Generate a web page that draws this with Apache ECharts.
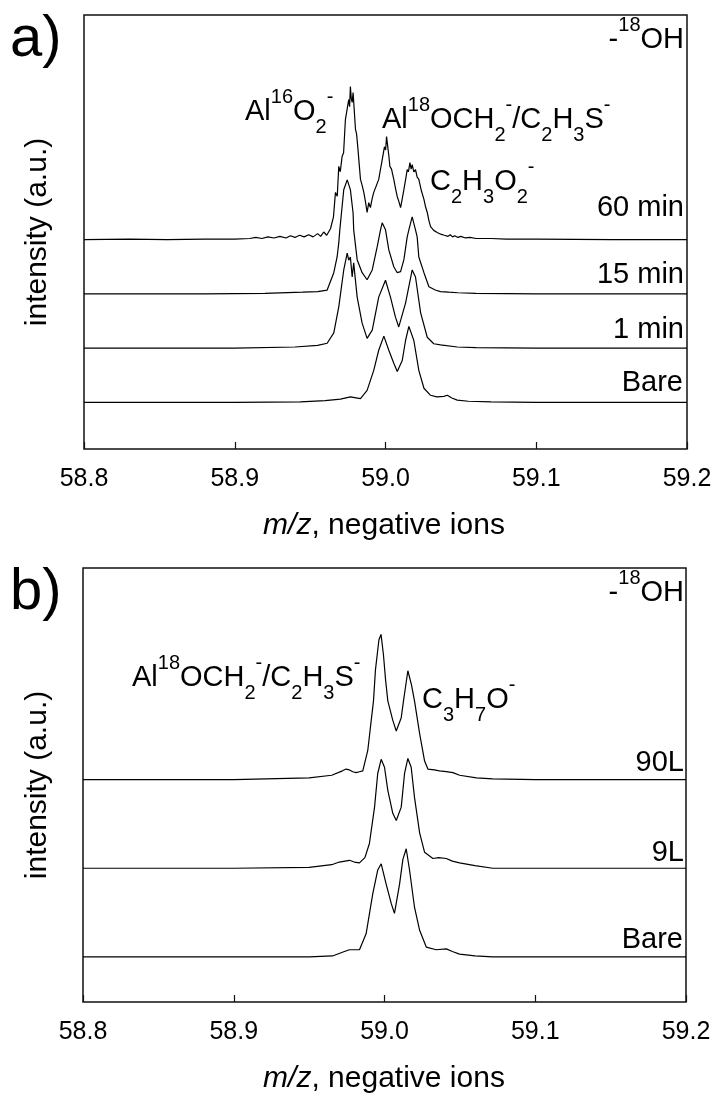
<!DOCTYPE html>
<html><head><meta charset="utf-8">
<script src="https://cdn.jsdelivr.net/npm/echarts@6/dist/echarts.min.js"></script>
<style>html,body{margin:0;padding:0;background:#fff}#c{width:718px;height:1095px}</style>
</head><body><div id="c"></div>
<script>
// ---- data (m/z, intensity above own baseline, a.u.) ----
const xTicks = [58.8, 58.9, 59.0, 59.1, 59.2];
const panelA_names = ['60 min', '15 min', '1 min', 'Bare'];
const panelA_offsets = [3.86, 2.86, 1.86, 0.86];
const panelB_names = ['90L', '9L', 'Bare'];
const panelB_offsets = [2.51, 1.51, 0.51];

const a_60min = [[58.800,0.00],[58.830,0.01],[58.855,0.00],[58.880,0.01],[58.900,0.01],[58.910,0.02],[58.914,0.04],[58.918,0.02],[58.922,0.05],[58.926,0.03],[58.930,0.06],[58.934,0.03],[58.937,0.07],[58.940,0.04],[58.943,0.08],[58.946,0.05],[58.949,0.09],[58.952,0.05],[58.955,0.11],[58.957,0.06],[58.959,0.14],[58.961,0.08],[58.9635,0.20],[58.9655,0.42],[58.9668,0.87],[58.9680,0.80],[58.9690,1.35],[58.9700,1.25],[58.9712,1.53],[58.9722,1.60],[58.9734,2.21],[58.9745,2.20],[58.9756,2.58],[58.9762,2.45],[58.9767,2.82],[58.9773,2.60],[58.9779,2.53],[58.9785,2.71],[58.9801,2.03],[58.9808,1.95],[58.9816,1.71],[58.9834,1.11],[58.9845,1.00],[58.9856,0.87],[58.9867,0.70],[58.9878,0.50],[58.9889,0.68],[58.9900,0.59],[58.9911,0.75],[58.9922,0.87],[58.9940,1.00],[58.9955,1.11],[58.9967,1.30],[58.9978,1.47],[58.9993,1.71],[59.0001,1.65],[59.0007,1.90],[59.0015,1.71],[59.0022,1.55],[59.0029,1.35],[59.0040,1.30],[59.0055,1.11],[59.0066,0.95],[59.0078,0.79],[59.0089,0.70],[59.0100,0.59],[59.0111,0.75],[59.0122,0.92],[59.0133,1.10],[59.0144,1.29],[59.0152,1.25],[59.0162,1.42],[59.0170,1.30],[59.0177,1.38],[59.0188,1.25],[59.0199,1.29],[59.0210,1.15],[59.0221,1.11],[59.0238,0.90],[59.0255,0.74],[59.0266,0.60],[59.0277,0.50],[59.0288,0.35],[59.0299,0.24],[59.0310,0.27],[59.0320,0.17],[59.0332,0.20],[59.0343,0.13],[59.0355,0.16],[59.0366,0.10],[59.0378,0.13],[59.0390,0.08],[59.0402,0.11],[59.0415,0.06],[59.0430,0.09],[59.0445,0.05],[59.0460,0.07],[59.0480,0.04],[59.0500,0.06],[59.0530,0.03],[59.0560,0.04],[59.0600,0.02],[59.0700,0.02],[59.0800,0.01],[59.1000,0.01],[59.1500,0.00],[59.2000,0.00]];
const a_15min = [[58.800,0.00],[58.880,0.00],[58.920,0.01],[58.945,0.03],[58.955,0.04],[58.9613,0.07],[58.9657,0.39],[58.9679,0.68],[58.9690,0.94],[58.9697,1.18],[58.9723,1.92],[58.9746,2.10],[58.9767,1.92],[58.9785,1.49],[58.9789,1.18],[58.9812,0.63],[58.9845,0.39],[58.9878,0.26],[58.9912,0.44],[58.9945,0.87],[58.9967,1.18],[58.9978,1.31],[59.0000,1.18],[59.0022,0.81],[59.0055,0.50],[59.0078,0.39],[59.0100,0.41],[59.0122,0.63],[59.0144,1.05],[59.0155,1.18],[59.0177,1.42],[59.0199,1.18],[59.0210,1.05],[59.0221,0.68],[59.0255,0.39],[59.0288,0.13],[59.0330,0.07],[59.0365,0.04],[59.0420,0.03],[59.0480,0.02],[59.0600,0.01],[59.1000,0.00],[59.2000,0.00]];
const a_1min = [[58.800,0.00],[58.900,0.00],[58.940,0.02],[58.955,0.05],[58.9613,0.09],[58.9657,0.28],[58.9690,0.76],[58.9723,1.44],[58.9746,1.75],[58.9756,1.62],[58.9767,1.68],[58.9779,1.31],[58.9789,1.57],[58.9812,0.94],[58.9845,0.46],[58.9878,0.18],[58.9912,0.33],[58.9955,0.94],[59.0000,1.25],[59.0033,0.94],[59.0066,0.57],[59.0088,0.39],[59.0133,0.83],[59.0177,1.44],[59.0199,1.31],[59.0233,0.65],[59.0277,0.20],[59.0320,0.08],[59.0365,0.06],[59.0476,0.02],[59.0600,0.01],[59.1000,0.00],[59.2000,0.00]];
const a_bare = [[58.800,0.00],[58.900,0.00],[58.9435,0.01],[58.9600,0.03],[58.9701,0.06],[58.9767,0.10],[58.9834,0.07],[58.9878,0.22],[58.9922,0.59],[58.9955,0.96],[58.9989,1.22],[59.0022,0.96],[59.0055,0.72],[59.0078,0.57],[59.0111,0.77],[59.0133,1.14],[59.0155,1.40],[59.0188,1.14],[59.0221,0.59],[59.0255,0.26],[59.0299,0.13],[59.0340,0.10],[59.0387,0.11],[59.0410,0.13],[59.0440,0.08],[59.0476,0.04],[59.0550,0.02],[59.0700,0.01],[59.1000,0.00],[59.2000,0.00]];

const b_90L = [[58.800,0.00],[58.900,0.00],[58.950,0.02],[58.965,0.05],[58.9721,0.10],[58.9745,0.12],[58.9767,0.11],[58.9790,0.09],[58.9812,0.08],[58.9834,0.09],[58.9856,0.10],[58.9889,0.33],[58.9912,0.67],[58.9927,0.89],[58.9940,1.24],[58.9963,1.58],[58.9977,1.64],[58.9993,1.41],[59.0007,1.13],[59.0022,0.89],[59.0055,0.67],[59.0078,0.55],[59.0111,0.70],[59.0126,0.89],[59.0155,1.23],[59.0179,1.07],[59.0199,0.89],[59.0233,0.52],[59.0266,0.21],[59.0288,0.12],[59.0330,0.11],[59.0365,0.10],[59.0410,0.09],[59.0454,0.08],[59.0498,0.05],[59.0610,0.02],[59.0718,0.01],[59.1000,0.00],[59.2000,0.00]];
const b_9L = [[58.800,0.00],[58.900,0.00],[58.950,0.01],[58.965,0.04],[58.9700,0.07],[58.9767,0.09],[58.9800,0.07],[58.9834,0.06],[58.9870,0.12],[58.9900,0.28],[58.9934,0.69],[58.9955,1.07],[58.9978,1.23],[59.0000,1.14],[59.0022,0.88],[59.0055,0.62],[59.0078,0.54],[59.0111,0.69],[59.0133,1.07],[59.0155,1.24],[59.0177,1.14],[59.0199,0.80],[59.0233,0.40],[59.0266,0.18],[59.0321,0.11],[59.0360,0.12],[59.0410,0.11],[59.0450,0.08],[59.0498,0.06],[59.0600,0.03],[59.0718,0.00],[59.2000,0.00]];
const b_bare = [[58.800,0.00],[58.900,0.00],[58.950,0.00],[58.9655,0.01],[58.9734,0.06],[58.9767,0.08],[58.9834,0.08],[58.9878,0.26],[58.9922,0.71],[58.9955,0.98],[58.9978,1.05],[59.0011,0.82],[59.0045,0.60],[59.0066,0.49],[59.0100,0.82],[59.0122,1.10],[59.0144,1.22],[59.0166,0.98],[59.0199,0.56],[59.0233,0.30],[59.0277,0.11],[59.0343,0.08],[59.0410,0.09],[59.0450,0.06],[59.0498,0.03],[59.0600,0.01],[59.0718,0.00],[59.2000,0.00]];

const panelA_traces = [a_60min, a_15min, a_1min, a_bare];
const panelB_traces = [b_90L, b_9L, b_bare];

// ---- chart ----
const FF = '"Liberation Sans", Arial, sans-serif';
const chart = echarts.init(document.getElementById('c'), null, {renderer: 'canvas'});

const series = [];
panelA_traces.forEach((t, i) => series.push({
  name: 'a ' + panelA_names[i], type: 'line', xAxisIndex: 0, yAxisIndex: 0,
  data: t.map(p => [p[0], p[1] + panelA_offsets[i]]),
  symbol: 'none', silent: true, lineStyle: {color: '#000', width: 1.2}
}));
panelB_traces.forEach((t, i) => series.push({
  name: 'b ' + panelB_names[i], type: 'line', xAxisIndex: 1, yAxisIndex: 1,
  data: t.map(p => [p[0], p[1] + panelB_offsets[i]]),
  symbol: 'none', silent: true, lineStyle: {color: '#000', width: 1.2}
}));

function xAx(g) {
  return {
    gridIndex: g, type: 'value', min: 58.8, max: 59.2, interval: 0.1,
    axisLine: {show: false},
    axisTick: {show: true, inside: true, length: 7, lineStyle: {color: '#111', width: 1.2}},
    axisLabel: {fontSize: 25, color: '#000', fontFamily: FF, margin: 18,
      formatter: v => (xTicks.find(t => Math.abs(t - v) < 1e-6) || v).toFixed(1)},
    splitLine: {show: false}
  };
}

const rich = {
  n: {fontSize: 29, lineHeight: 50, fontFamily: FF, fill: '#000', color: '#000'},
  sup: {fontSize: 20, lineHeight: 16, verticalAlign: 'top', fontFamily: FF, fill: '#000', color: '#000'},
  sub: {fontSize: 20, lineHeight: 28, verticalAlign: 'bottom', fontFamily: FF, fill: '#000', color: '#000'}
};
function lab(text, x, baseline, align) {
  return {type: 'text', x: x, y: baseline - 35, silent: true, z: 10,
    style: {text: text, rich: rich, align: align, verticalAlign: 'top', fill: '#000'}};
}
const PB = 553; // panel b vertical shift

const graphic = [
  {type: 'text', x: 10, y: 60 - 20, style: {text: 'a)', fontSize: 58, fontFamily: FF, fill: '#000', align: 'left', verticalAlign: 'middle'}},
  {type: 'text', x: 10, y: 60 - 20 + PB, style: {text: 'b)', fontSize: 58, fontFamily: FF, fill: '#000', align: 'left', verticalAlign: 'middle'}},
  {type: 'text', x: 38, y: 232, rotation: Math.PI / 2, style: {text: 'intensity (a.u.)', fontSize: 30, fontFamily: FF, fill: '#000', align: 'center', verticalAlign: 'middle'}},
  {type: 'text', x: 38, y: 232 + PB, rotation: Math.PI / 2, style: {text: 'intensity (a.u.)', fontSize: 30, fontFamily: FF, fill: '#000', align: 'center', verticalAlign: 'middle'}},
  {type: 'text', x: 384, y: 536 - 10.4, style: {text: '{i|m/z}{r|, negative ions}', align: 'center', verticalAlign: 'middle',
    rich: {i: {fontSize: 30, fontStyle: 'italic', fontFamily: FF, fill: '#000'}, r: {fontSize: 30, fontFamily: FF, fill: '#000'}}}},
  {type: 'text', x: 384, y: 536 - 10.4 + PB, style: {text: '{i|m/z}{r|, negative ions}', align: 'center', verticalAlign: 'middle',
    rich: {i: {fontSize: 30, fontStyle: 'italic', fontFamily: FF, fill: '#000'}, r: {fontSize: 30, fontFamily: FF, fill: '#000'}}}},
  // panel a labels
  lab('{n|-}{sup|18}{n|OH}', 684, 50, 'right'),
  lab('{n|Al}{sup|16}{n|O}{sub|2}{sup|-}', 245, 122, 'left'),
  lab('{n|Al}{sup|18}{n|OCH}{sub|2}{sup|-}{n|/C}{sub|2}{n|H}{sub|3}{n|S}{sup|-}', 382, 130, 'left'),
  lab('{n|C}{sub|2}{n|H}{sub|3}{n|O}{sub|2}{sup|-}', 430, 192, 'left'),
  lab('{n|60 min}', 684, 218, 'right'),
  lab('{n|15 min}', 684, 285, 'right'),
  lab('{n|1 min}', 684, 340, 'right'),
  lab('{n|Bare}', 683, 393, 'right'),
  // panel b labels
  lab('{n|-}{sup|18}{n|OH}', 684, 50 + PB, 'right'),
  lab('{n|Al}{sup|18}{n|OCH}{sub|2}{sup|-}{n|/C}{sub|2}{n|H}{sub|3}{n|S}{sup|-}', 132, 688, 'left'),
  lab('{n|C}{sub|3}{n|H}{sub|7}{n|O}{sup|-}', 422, 710, 'left'),
  lab('{n|90L}', 684, 773, 'right'),
  lab('{n|9L}', 684, 863, 'right'),
  lab('{n|Bare}', 683, 950, 'right')
];

chart.setOption({
  animation: false,
  backgroundColor: '#fff',
  grid: [
    {left: 84, top: 15, width: 603, height: 434, show: true, borderColor: '#111', borderWidth: 1.5, backgroundColor: 'transparent'},
    {left: 83, top: 15 + PB, width: 603, height: 434, show: true, borderColor: '#111', borderWidth: 1.5, backgroundColor: 'transparent'}
  ],
  xAxis: [xAx(0), xAx(1)],
  yAxis: [
    {gridIndex: 0, type: 'value', min: 0, max: 8, show: false},
    {gridIndex: 1, type: 'value', min: 0, max: 4.9, show: false}
  ],
  series: series,
  graphic: graphic
});
</script></body></html>
